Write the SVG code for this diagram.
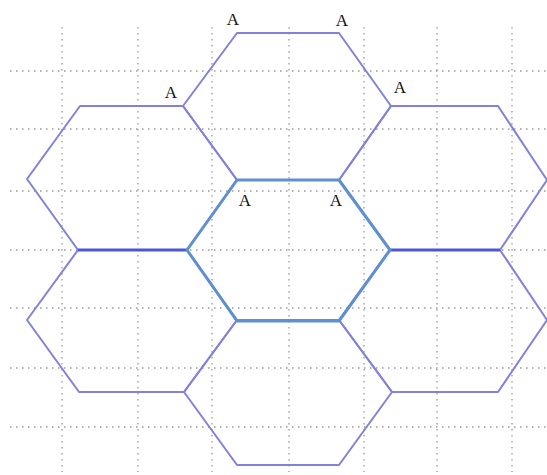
<svg xmlns="http://www.w3.org/2000/svg" width="547" height="475" viewBox="0 0 547 475">
<style>
.grid line{stroke:#9a9a9a;stroke-width:1.3;stroke-dasharray:1.5 4.5}
.hex{fill:none;stroke:#8282d8;stroke-width:2;stroke-linejoin:round}
.center{fill:none;stroke:#5f8fd0;stroke-width:3;stroke-linejoin:round}
.mid{stroke:#4a56d6;stroke-width:3}
.lbl{font-family:"Liberation Serif",serif;font-size:17px;fill:#111;text-anchor:middle}
</style>
<rect width="547" height="475" fill="#fff"/>
<g class="grid">
<line x1="62" y1="27" x2="62" y2="472"/>
<line x1="138" y1="27" x2="138" y2="472"/>
<line x1="212" y1="27" x2="212" y2="472"/>
<line x1="289" y1="27" x2="289" y2="472"/>
<line x1="364" y1="27" x2="364" y2="472"/>
<line x1="437" y1="27" x2="437" y2="472"/>
<line x1="512" y1="27" x2="512" y2="472"/>
<line x1="10" y1="71" x2="547" y2="71"/>
<line x1="10" y1="129" x2="547" y2="129"/>
<line x1="10" y1="191" x2="547" y2="191"/>
<line x1="10" y1="250" x2="547" y2="250"/>
<line x1="10" y1="308" x2="547" y2="308"/>
<line x1="10" y1="368" x2="547" y2="368"/>
<line x1="10" y1="427" x2="547" y2="427"/>
</g>
<g id="hex-top"><polygon class="hex" points="237,33 339,33 391,106 339,180 237,180 183,106"/></g>
<g id="hex-upper-left"><polygon class="hex" points="80,106 183,106 237,180 187,250 78,250 27,179"/></g>
<g id="hex-upper-right"><polygon class="hex" points="391,106 498,106 547,180 500,250 390,250 339,180"/></g>
<g id="hex-lower-left"><polygon class="hex" points="78,250 187,250 237,320 184,392 79,392 27,320"/></g>
<g id="hex-lower-right"><polygon class="hex" points="390,250 500,250 547,320 498,392 392,392 339,320"/></g>
<g id="hex-bottom"><polygon class="hex" points="237,320 339,320 392,392 339,465 237,465 184,392"/></g>
<g id="connectors">
<line class="mid" x1="78" y1="250" x2="187" y2="250"/>
<line class="mid" x1="390" y1="250" x2="500" y2="250"/>
</g>
<g id="hex-center"><polygon class="center" points="237,180 339,180 390,250 339,321 237,321 187,250"/></g>
<g id="labels">
<text class="lbl" x="233" y="25">A</text>
<text class="lbl" x="342" y="26">A</text>
<text class="lbl" x="171" y="98">A</text>
<text class="lbl" x="400" y="93">A</text>
<text class="lbl" x="245" y="206">A</text>
<text class="lbl" x="336" y="206">A</text>
</g>
</svg>
